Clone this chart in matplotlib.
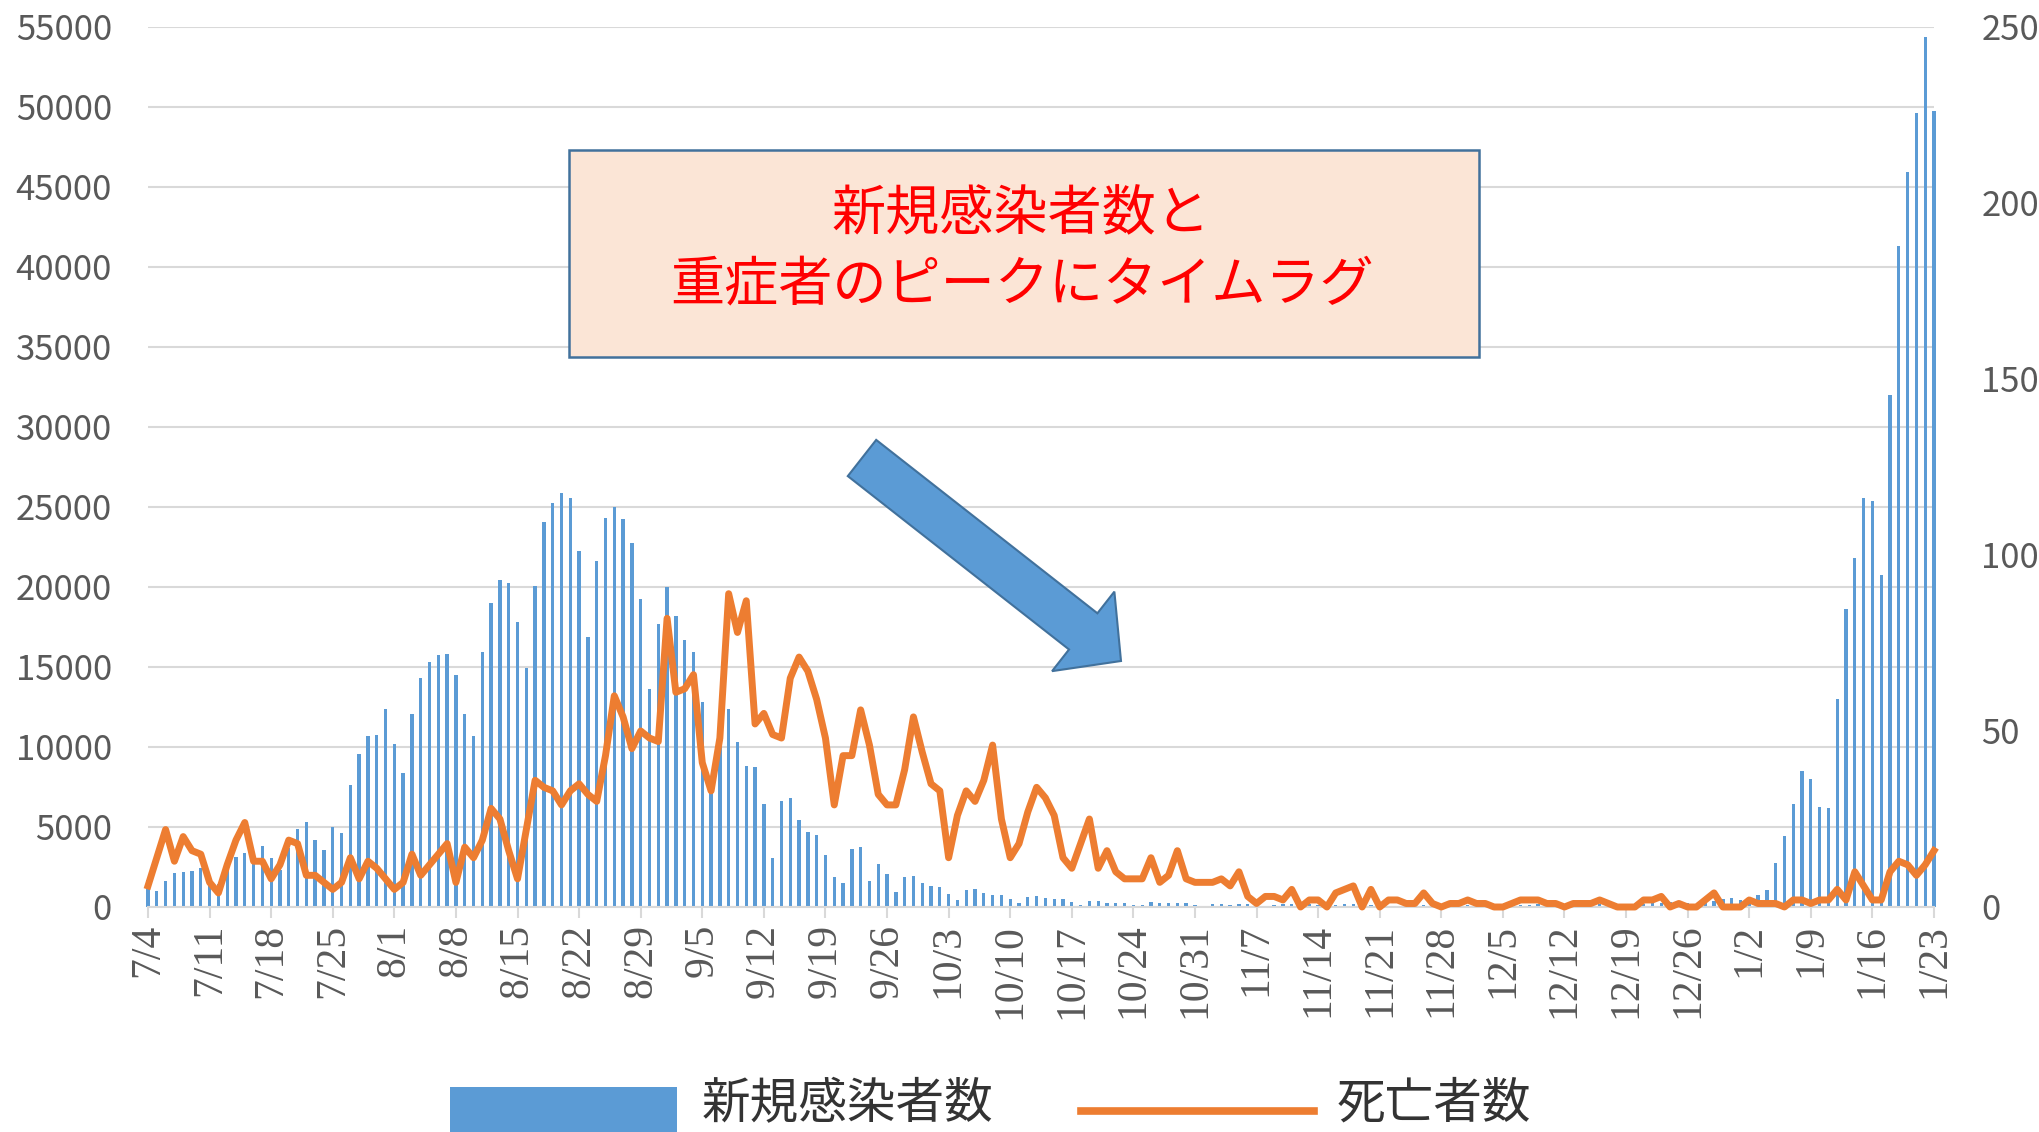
import matplotlib
matplotlib.use("Agg")
import matplotlib.pyplot as plt
import matplotlib.transforms as mtransforms
from matplotlib.patches import Rectangle, FancyArrow
from matplotlib.lines import Line2D
import numpy as np
import pandas as pd

plt.rcParams['font.family'] = ['Noto Sans CJK JP', 'DejaVu Sans']

# daily data 2021/7/4 - 2022/1/23
dates = pd.date_range("2021-07-04", "2022-01-23")

new_cases = [
    # Jul 4-31
    1700, 970, 1620, 2130, 2200, 2220, 2410, 1500, 1460, 2380, 3130, 3360, 3000, 3820,
    3060, 2330, 3700, 4900, 5320, 4170, 3560, 4980, 4630, 7640, 9560, 10700, 10740, 12380,
    # Aug
    10190, 8380, 12080, 14330, 15320, 15740, 15790, 14470, 12080, 10660, 15950, 19000,
    20450, 20240, 17820, 14920, 20050, 24050, 25260, 25890, 25580, 22260, 16870, 21600,
    24340, 24970, 24260, 22760, 19260, 13600, 17660,
    # Sep
    19970, 18160, 16680, 15950, 12820, 7200, 10100, 12350, 10330, 8810, 8730, 6440,
    3040, 6600, 6810, 5440, 4710, 4500, 3240, 1850, 1480, 3600, 3770, 1630, 2670, 2060,
    920, 1880, 1920, 1520,
    # Oct
    1290, 1270, 810, 440, 1040, 1130, 900, 750, 730, 520, 230, 630, 670, 590, 500, 500,
    310, 100, 350, 350, 270, 270, 230, 150, 100, 290, 270, 270, 270, 230, 150,
    # Nov
    80, 190, 210, 100, 210, 190, 80, 80, 150, 190, 180, 200, 160, 130, 70, 120, 170, 160,
    150, 130, 110, 60, 80, 90, 100, 120, 120, 100, 60, 90,
    # Dec
    120, 110, 130, 140, 110, 80, 120, 140, 160, 150, 150, 130, 90, 150, 170, 160, 180,
    170, 150, 110, 200, 250, 280, 300, 320, 250, 200, 380, 400, 500, 560,
    # Jan 1-23
    450, 550, 780, 1060, 2720, 4440, 6430, 8490, 8000, 6240, 6200, 12980, 18600, 21830,
    25570, 25380, 20740, 32020, 41310, 45920, 49630, 54350, 49780,
]

deaths = [
    # Jul 4-31
    6, 14, 22, 13, 20, 16, 15, 7, 4, 12, 19, 24, 13, 13, 8, 12, 19, 18, 9, 9, 7, 5, 7,
    14, 8, 13, 11, 8,
    # Aug
    5, 7, 15, 9, 12, 15, 18, 7, 17, 14, 19, 28, 25, 16, 8, 22, 36, 34, 33, 29, 33, 35,
    32, 30, 43, 60, 54, 45, 50, 48, 47,
    # Sep
    82, 61, 62, 66, 41, 33, 48, 89, 78, 87, 52, 55, 49, 48, 65, 71, 67, 59, 48, 29, 43,
    43, 56, 46, 32, 29, 29, 39, 54, 44,
    # Oct
    35, 33, 14, 26, 33, 30, 36, 46, 25, 14, 18, 27, 34, 31, 26, 14, 11, 18, 25, 11, 16,
    10, 8, 8, 8, 14, 7, 9, 16, 8, 7,
    # Nov
    7, 7, 8, 6, 10, 3, 1, 3, 3, 2, 5, 0, 2, 2, 0, 4, 5, 6, 0, 5, 0, 2, 2, 1, 1, 4, 1, 0,
    1, 1,
    # Dec
    2, 1, 1, 0, 0, 1, 2, 2, 2, 1, 1, 0, 1, 1, 1, 2, 1, 0, 0, 0, 2, 2, 3, 0, 1, 0, 0, 2,
    4, 0, 0,
    # Jan 1-23
    0, 2, 1, 1, 1, 0, 2, 2, 1, 2, 2, 5, 2, 10, 6, 2, 2, 10, 13, 12, 9, 12, 16,
]

case_label = "新規感染者数"
death_label = "死亡者数"
note_lines = ["新規感染者数と", "重症者のピークにタイムラグ"]

blue = "#5B9BD5"
orange = "#ED7D31"
grid_c = "#D9D9D9"
tick_c = "#595959"

W, H = 2040, 1132
fig = plt.figure(figsize=(W / 100, H / 100), dpi=100)
# pixel coords with origin at top-left, for the shapes drawn on the figure
px = mtransforms.Affine2D().scale(0.01, -0.01).translate(0, H / 100) + fig.dpi_scale_trans

ax = fig.add_axes([148 / W, 1 - 907 / H, (1934 - 148) / W, 880 / H])
x = np.arange(len(dates))
ax.bar(x, new_cases, width=0.38, color=blue, zorder=2, clip_on=False)
ax.set_xlim(0, len(dates) - 1)
ax.set_ylim(0, 55000)
ax.set_yticks(np.arange(0, 55001, 5000))
ax.grid(axis="y", color=grid_c, lw=1.5)
ax.set_axisbelow(True)
for s in ["top", "right", "left"]:
    ax.spines[s].set_visible(False)
ax.spines["bottom"].set_color(grid_c)
ax.spines["bottom"].set_linewidth(1.5)
ax.tick_params(axis="y", length=0, pad=26, labelsize=25, labelcolor=tick_c)
ax.set_xticks(x[::7])
ax.set_xticklabels([f"{d.month}/{d.day}" for d in dates[::7]], rotation=90)
ax.tick_params(axis="x", length=8, width=1.5, color=grid_c, pad=4)
for lbl in ax.get_xticklabels():
    lbl.set_fontfamily(["Liberation Serif", "DejaVu Serif"])
    lbl.set_fontsize(30)
    lbl.set_color(tick_c)

ax2 = ax.twinx()
ax2.plot(x, deaths, color=orange, lw=5, solid_joinstyle="round", clip_on=False)
ax2.set_ylim(0, 250)
ax2.set_yticks(range(0, 251, 50))
for s in ["top", "right", "left", "bottom"]:
    ax2.spines[s].set_visible(False)
ax2.tick_params(axis="y", length=0, pad=34, labelsize=25, labelcolor=tick_c)

# annotation box and arrow
fig.add_artist(Rectangle((569, 150), 910, 207, transform=px, fc="#FBE5D6",
                         ec="#41719C", lw=1.8))
fig.text(1021, 215, note_lines[0], transform=px, ha="center", va="center",
         fontsize=39, color="red")
fig.text(1022, 285, note_lines[1], transform=px, ha="center", va="center",
         fontsize=39, color="red")
fig.add_artist(FancyArrow(862, 458, 259, 203, width=46, head_width=101, head_length=48,
                          length_includes_head=True, transform=px, fc=blue,
                          ec="#41719C", lw=1.5))

# legend at the bottom
fig.add_artist(Rectangle((450, 1087), 227, 60, transform=px, fc=blue, ec="none"))
fig.text(702, 1104, case_label, transform=px, ha="left", va="center",
         fontsize=35, color="#333333")
fig.add_artist(Line2D([1081, 1314], [1111, 1111], transform=px, color=orange, lw=5.5))
fig.text(1337, 1104, death_label, transform=px, ha="left", va="center",
         fontsize=35, color="#333333")

fig.savefig("out.png", dpi=100)
